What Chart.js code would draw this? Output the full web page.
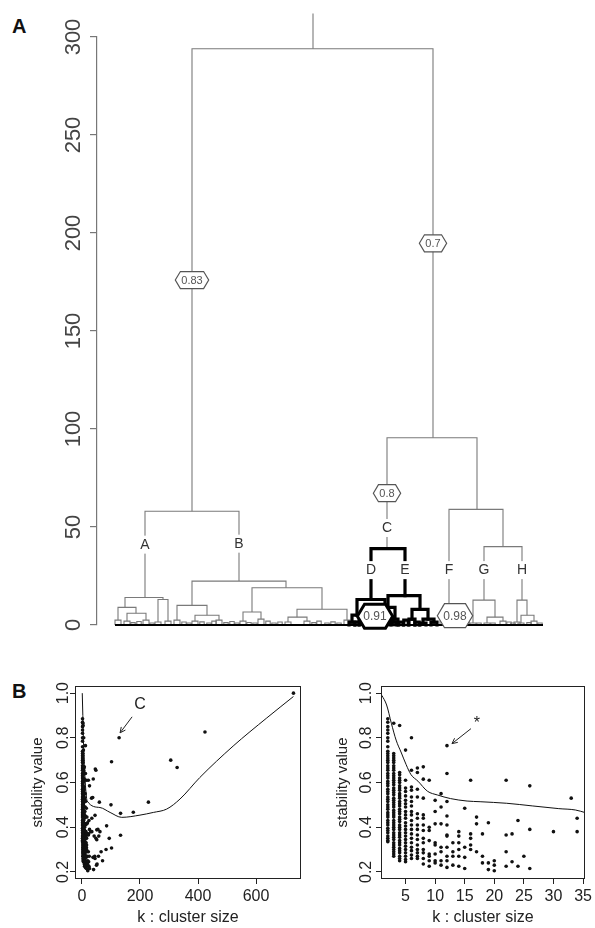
<!DOCTYPE html>
<html>
<head>
<meta charset="utf-8">
<script src="https://cdn.jsdelivr.net/npm/chart.js"></script>
<style>
  html, body { margin: 0; padding: 0; background: #fff; }
  body { position: relative; width: 595px; height: 928px; overflow: hidden; font-family: "Liberation Sans", Arial, sans-serif; }
  .panel { position: absolute; }
  .tag { position: absolute; font: bold 20px "Liberation Sans", Arial, sans-serif; color: #111; }
</style>
</head>
<body>
<div class="tag" style="left:12px;top:15px">A</div>
<div class="tag" style="left:12px;top:680px">B</div>
<div class="panel" style="left:0;top:0;width:595px;height:645px"><canvas id="dendro"></canvas></div>
<div class="panel" style="left:0;top:640px;width:310px;height:288px"><canvas id="sizeAll"></canvas></div>
<div class="panel" style="left:300px;top:640px;width:295px;height:288px"><canvas id="sizeSmall"></canvas></div>
<script>
// ---- panel A: dendrogram (x = leaf order position, height = merge height) ----
const nodeName = ['', '', '', '', 'A', 'B', '', '', '', '', '', '', '', '', '', '', '', '', '', '',
  '', '', '', '', '', '', '', '', 'C', '', 'D', 'E', '', '', '', '', '', '', '', '',
  '', '', '', '', 'F', '', '', '', 'G', 'H', '', '', '', '', '', '', '', '', '', ''];
const nodeX = [216, 216, 95, 336, 48, 142, 28, 66, 21, 39, 30, 49, 61, 71, 95, 189, 80, 110, 98, 122,
  155, 225, 146, 164, 200, 250, 191, 210, 290, 380, 274, 308, 260, 288, 255, 265, 278, 298, 291, 323,
  286, 296, 315, 331, 352, 406, 346, 358, 387, 425, 376, 398, 390, 406, 420, 430, 424, 437, 326, 337];
const nodeHeight = [312, 294, 58, 95.5, 14, 22.4, 9, 13, 2.5, 6, 2, 2.5, 1.5, 2, 10, 19, 2.5, 5, 2, 2.5,
  6.6, 8, 2, 3, 4, 2.5, 1.5, 2, 39, 59, 13, 15, 5, 9, 1.5, 2, 0, 3, 4, 8,
  1, 1.5, 3, 3, 9.5, 40, 2, 0, 12.7, 12.7, 1, 4, 1, 2, 1.5, 5, 1, 2, 1, 1.5];
const nodeParent = [-1, 0, 1, 1, 2, 2, 4, 4, 6, 6, 9, 9, 7, 7, 5, 5, 14, 14, 17, 17,
  15, 15, 20, 20, 21, 21, 24, 24, 3, 3, 28, 28, 30, 30, 32, 32, 33, 33, 31, 31,
  38, 38, 39, 39, 29, 29, 44, 44, 45, 45, 48, 48, 51, 51, 49, 49, 55, 55, 43, 43];
// small leaf groups along the base
const fringeX = [36, 42, 55, 87, 92, 105, 112, 117, 129, 135, 140, 152, 158, 171, 177, 183, 217, 222, 230, 236,
  242, 260, 270, 279, 304, 309, 320, 366, 370, 382, 396, 412, 416, 432, 443];
const fringeH = [1.2, 1.8, 1, 1.5, 1, 1.6, 1, 2, 1.2, 1.8, 1, 1.3, 1, 2, 1, 1.5, 1.2, 2, 1, 1.6,
  1, 1.5, 1, 2, 1.5, 2.5, 1.5, 1, 1.5, 1, 1, 1.5, 1, 1.2, 1];
// bootstrap values on edges
const edgeValueNode = [2, 3, 28, 36, 47];
const edgeValueText = ['0.83', '0.7', '0.8', '0.91', '0.98'];
const highlightClade = 'C';
const heightTicks = [0, 50, 100, 150, 200, 250, 300];

// ---- panel B: stability vs cluster size ----
const clusterSizes = [2, 3, 4, 5, 6, 7, 8, 9, 10, 11, 12, 13, 14, 15, 16, 17, 18, 19, 20, 22, 23, 24, 25, 26, 30, 33, 34];
const stabilityBySize = [
  [0.885, 0.87, 0.85, 0.835, 0.82, 0.80, 0.785, 0.76, 0.74, 0.73, 0.72, 0.71, 0.70, 0.69, 0.675, 0.665, 0.655, 0.64, 0.63, 0.62,
   0.605, 0.595, 0.585, 0.57, 0.56, 0.55, 0.535, 0.525, 0.515, 0.50, 0.49, 0.48, 0.465, 0.455, 0.445, 0.43, 0.42, 0.41, 0.395, 0.385,
   0.375, 0.36, 0.35, 0.34, 0.335],
  [0.865, 0.73, 0.72, 0.71, 0.70, 0.69, 0.675, 0.665, 0.655, 0.64, 0.63, 0.62, 0.61, 0.60, 0.59, 0.575, 0.565, 0.555, 0.545, 0.53,
   0.52, 0.51, 0.50, 0.49, 0.475, 0.465, 0.455, 0.445, 0.43, 0.42, 0.41, 0.40, 0.39, 0.375, 0.365, 0.355, 0.345, 0.33, 0.32, 0.31,
   0.30, 0.29, 0.28, 0.27],
  [0.855, 0.645, 0.635, 0.62, 0.61, 0.60, 0.585, 0.575, 0.565, 0.55, 0.54, 0.53, 0.515, 0.505, 0.495, 0.48, 0.47, 0.46, 0.445, 0.435,
   0.425, 0.41, 0.40, 0.39, 0.375, 0.365, 0.355, 0.34, 0.33, 0.32, 0.305, 0.295, 0.285, 0.27, 0.26, 0.25],
  [0.745, 0.61, 0.575, 0.56, 0.54, 0.52, 0.505, 0.49, 0.47, 0.455, 0.44, 0.42, 0.405, 0.39, 0.375, 0.36, 0.345, 0.33, 0.315, 0.30,
   0.285, 0.27, 0.255, 0.245],
  [0.80, 0.655, 0.58, 0.565, 0.535, 0.515, 0.495, 0.47, 0.455, 0.43, 0.41, 0.39, 0.37, 0.35, 0.33, 0.31, 0.295, 0.275, 0.26],
  [0.665, 0.645, 0.57, 0.535, 0.46, 0.44, 0.41, 0.39, 0.365, 0.345, 0.32, 0.30, 0.285, 0.27, 0.26],
  [0.67, 0.615, 0.53, 0.455, 0.44, 0.41, 0.385, 0.35, 0.33, 0.30, 0.285, 0.26, 0.235],
  [0.61, 0.40, 0.385, 0.34, 0.28, 0.27, 0.25, 0.225],
  [0.52, 0.47, 0.415, 0.33, 0.32, 0.28, 0.25, 0.24],
  [0.55, 0.49, 0.415, 0.31, 0.29, 0.25, 0.23],
  [0.765, 0.64, 0.515, 0.45, 0.41, 0.365, 0.36, 0.31, 0.27, 0.25, 0.22],
  [0.33, 0.29, 0.27, 0.23],
  [0.38, 0.36, 0.33, 0.30, 0.27, 0.225],
  [0.485, 0.31, 0.265, 0.215],
  [0.61, 0.37, 0.35, 0.32, 0.30],
  [0.445, 0.415, 0.29],
  [0.37, 0.27, 0.24],
  [0.42, 0.24, 0.21],
  [0.25, 0.23, 0.205],
  [0.61, 0.365, 0.29, 0.225],
  [0.37, 0.245],
  [0.43, 0.225],
  [0.27],
  [0.585, 0.39, 0.215],
  [0.38],
  [0.53],
  [0.44, 0.38]
];
// clusters larger than 35 (left plot only)
const bigSizes = [37, 38, 39, 40, 42, 44, 45, 45, 46, 48, 48, 50, 51, 51, 52, 55, 57, 58, 60, 62,
  66, 71, 83, 85, 94, 100, 102, 102, 128, 133, 133, 177, 229, 306, 328, 424, 729];
const bigStability = [0.533, 0.265, 0.616, 0.21, 0.36, 0.27, 0.453, 0.26, 0.66, 0.655, 0.35, 0.23, 0.388, 0.344, 0.235, 0.39, 0.27, 0.36, 0.512, 0.38,
  0.29, 0.25, 0.30, 0.406, 0.35, 0.50, 0.693, 0.307, 0.80, 0.462, 0.364, 0.467, 0.512, 0.70, 0.667, 0.826, 1.0];
// smoothed trend
const trendSmallK = [1, 1.8, 2.6, 3.4, 4.3, 5.1, 5.9, 7.1, 8.7, 10.4, 12.6, 15.4, 17.6, 22.1, 26.5, 30.9, 33.7, 35.4];
const trendSmallS = [0.99, 0.947, 0.865, 0.79, 0.732, 0.68, 0.636, 0.606, 0.561, 0.544, 0.528, 0.517, 0.514, 0.507, 0.495, 0.483, 0.477, 0.465];
const trendAllK = [1, 3, 6, 10, 18, 62, 97, 137, 200, 246, 292, 338, 406, 521, 637, 729];
const trendAllS = [1.0, 0.9, 0.75, 0.63, 0.517, 0.488, 0.466, 0.444, 0.454, 0.466, 0.481, 0.526, 0.622, 0.763, 0.889, 0.985];
const stabilityTicks = [0.2, 0.4, 0.6, 0.8, 1.0];
const allSizeTicks = [0, 200, 400, 600];
const smallSizeTicks = [5, 10, 15, 20, 25, 30, 35];

const FONT = '"Liberation Sans", Arial, Helvetica, sans-serif';
Chart.defaults.font.family = FONT;
Chart.defaults.animation = false;
Chart.defaults.plugins.legend.display = false;
Chart.defaults.plugins.tooltip.enabled = false;

function rotatedYLabels(centerX, size, color, fmt) {
  return {
    id: 'rotatedYLabels',
    afterDraw(chart) {
      const ctx = chart.ctx, y = chart.scales.y;
      ctx.save();
      ctx.font = size + 'px ' + FONT;
      ctx.fillStyle = color;
      ctx.textAlign = 'center';
      ctx.textBaseline = 'middle';
      y.ticks.forEach(t => {
        ctx.save();
        ctx.translate(centerX, y.getPixelForValue(t.value));
        ctx.rotate(-Math.PI / 2);
        ctx.fillText(fmt(t.value), 0, 0);
        ctx.restore();
      });
      ctx.restore();
    }
  };
}

// ---------- dendrogram ----------
const LEAF_GAP = 3;
const children = nodeX.map(() => []);
nodeParent.forEach((p, i) => { if (p >= 0) children[p].push(i); });
const cladeRoot = nodeName.indexOf(highlightClade);
const inClade = nodeX.map((_, i) => {
  for (let j = i; j >= 0; j = nodeParent[j]) if (j === cladeRoot) return true;
  return false;
});
const cladeXs = nodeX.filter((_, i) => inClade[i]);
const cladeMin = Math.min(...cladeXs) - LEAF_GAP, cladeMax = Math.max(...cladeXs) + LEAF_GAP;

const paths = [];
nodeX.forEach((x, i) => {
  const kids = children[i].slice().sort((a, b) => nodeX[a] - nodeX[b]);
  const h = nodeHeight[i];
  let pts = null;
  if (kids.length === 1) {
    const c = kids[0];
    pts = [[nodeX[c], nodeHeight[c]], [nodeX[c], h]];
  } else if (kids.length > 1) {
    const a = kids[0], b = kids[kids.length - 1];
    pts = [[nodeX[a], nodeHeight[a]], [nodeX[a], h], [nodeX[b], h], [nodeX[b], nodeHeight[b]]];
  } else if (h > 0) {
    pts = [[x - LEAF_GAP, 0], [x - LEAF_GAP, h], [x + LEAF_GAP, h], [x + LEAF_GAP, 0]];
  }
  if (pts) paths.push({ pts, kind: inClade[i] ? 'bold' : 'thin' });
});
fringeX.forEach((x, i) => {
  const g = 2.2, h = fringeH[i];
  paths.push({ pts: [[x - g, 0], [x - g, h], [x + g, h], [x + g, 0]],
    kind: (x >= cladeMin && x <= cladeMax) ? 'bold' : 'thin' });
});
const leafXs = nodeX.concat(fringeX);
paths.push({ pts: [[Math.min(...leafXs) - LEAF_GAP, 0], [Math.max(...leafXs) + LEAF_GAP, 0]], kind: 'base' });
const kindOrder = { bold: 0, base: 1, thin: 2 };
paths.sort((a, b) => kindOrder[a.kind] - kindOrder[b.kind]);

const dendroDatasets = paths.map(p => ({
  data: p.pts.map(([x, y]) => ({ x, y })),
  showLine: true,
  pointRadius: 0,
  clip: false,
  borderColor: p.kind === 'thin' ? '#7a7a7a' : '#000',
  borderWidth: p.kind === 'bold' ? 3.2 : (p.kind === 'base' ? 2.2 : 1.1),
  borderJoinStyle: 'miter',
  borderCapStyle: p.kind === 'bold' ? 'square' : 'butt'
}));

const cladeLabelAt = { A: 41, B: 41.5, C: 49.5, D: 28, E: 28, F: 28, G: 28, H: 28 };

const dendroNotes = {
  id: 'dendroNotes',
  afterDatasetsDraw(chart) {
    const ctx = chart.ctx, xs = chart.scales.x, ys = chart.scales.y;
    ctx.save();
    // clade letters
    ctx.font = '14px ' + FONT;
    ctx.textAlign = 'center';
    ctx.textBaseline = 'middle';
    Object.keys(cladeLabelAt).forEach(name => {
      const i = nodeName.indexOf(name);
      const px = xs.getPixelForValue(nodeX[i]), py = ys.getPixelForValue(cladeLabelAt[name]);
      const w = ctx.measureText(name).width + 4;
      ctx.fillStyle = '#fff';
      ctx.fillRect(px - w / 2, py - 9, w, 18);
      ctx.fillStyle = '#333';
      ctx.fillText(name, px, py + 0.5);
    });
    // edge values in hexagons
    edgeValueNode.forEach((i, k) => {
      const h0 = nodeHeight[i], h1 = nodeHeight[nodeParent[i]];
      const low = (h1 - h0) < 15;
      const boldEdge = inClade[nodeParent[i]];
      const px = xs.getPixelForValue(nodeX[i]), py = ys.getPixelForValue((h0 + h1) / 2);
      ctx.font = (low ? 12 : 11) + 'px ' + FONT;
      const tw = ctx.measureText(edgeValueText[k]).width;
      const w = tw + 12, hh = low ? 24 : 17, s = hh * 0.3;
      ctx.beginPath();
      ctx.moveTo(px - w / 2, py);
      ctx.lineTo(px - w / 2 + s, py - hh / 2);
      ctx.lineTo(px + w / 2 - s, py - hh / 2);
      ctx.lineTo(px + w / 2, py);
      ctx.lineTo(px + w / 2 - s, py + hh / 2);
      ctx.lineTo(px - w / 2 + s, py + hh / 2);
      ctx.closePath();
      ctx.fillStyle = '#fff';
      ctx.fill();
      ctx.lineWidth = boldEdge ? 3 : 1.2;
      ctx.strokeStyle = boldEdge ? '#000' : '#555';
      ctx.stroke();
      ctx.fillStyle = '#555';
      ctx.fillText(edgeValueText[k], px, py + 0.5);
    });
    ctx.restore();
  }
};

new Chart(document.getElementById('dendro'), {
  type: 'scatter',
  data: { datasets: dendroDatasets },
  options: {
    responsive: true,
    maintainAspectRatio: false,
    layout: { padding: { left: 90, right: 35, top: 37, bottom: 20 } },
    scales: {
      x: { type: 'linear', display: false, min: 0, max: 463 },
      y: {
        type: 'linear', min: 0, max: 300,
        afterBuildTicks: s => { s.ticks = heightTicks.map(v => ({ value: v })); },
        afterFit: s => { s.width = 7; },
        ticks: { display: false },
        grid: { drawOnChartArea: false, drawTicks: true, tickLength: 7, color: '#777', lineWidth: 1.2 },
        border: { display: true, color: '#777', width: 1.2 }
      }
    }
  },
  plugins: [dendroNotes, rotatedYLabels(74, 22, '#444', v => String(v))]
});

// ---------- stability scatter plots ----------
const smallPoints = [];
clusterSizes.forEach((k, i) => stabilityBySize[i].forEach(s => smallPoints.push({ x: k, y: s })));
const bigPoints = bigSizes.map((k, i) => ({ x: k, y: bigStability[i] }));

const boxPlugin = {
  id: 'box',
  afterDraw(chart) {
    const a = chart.chartArea, ctx = chart.ctx;
    ctx.save();
    ctx.strokeStyle = '#222';
    ctx.lineWidth = 1;
    ctx.strokeRect(Math.round(a.left) + 0.5, Math.round(a.top) + 0.5,
      Math.round(a.right - a.left) - 1, Math.round(a.bottom - a.top) - 1);
    ctx.restore();
  }
};

function arrowNote(k, s, text, dx, dy, tailDx, tailDy, textDx, textDy) {
  return {
    id: 'arrowNote',
    afterDraw(chart) {
      const ctx = chart.ctx;
      const tipX = chart.scales.x.getPixelForValue(k) + dx;
      const tipY = chart.scales.y.getPixelForValue(s) + dy;
      const tailX = tipX + tailDx, tailY = tipY + tailDy;
      ctx.save();
      ctx.strokeStyle = '#222';
      ctx.lineWidth = 1;
      ctx.beginPath();
      ctx.moveTo(tailX, tailY);
      ctx.lineTo(tipX, tipY);
      const ang = Math.atan2(tipY - tailY, tipX - tailX);
      [0.45, -0.45].forEach(d => {
        ctx.moveTo(tipX, tipY);
        ctx.lineTo(tipX - 6 * Math.cos(ang + d), tipY - 6 * Math.sin(ang + d));
      });
      ctx.stroke();
      ctx.fillStyle = '#222';
      ctx.font = '16px ' + FONT;
      ctx.textAlign = 'center';
      ctx.textBaseline = 'middle';
      ctx.fillText(text, tailX + textDx, tailY + textDy);
      ctx.restore();
    }
  };
}

function stabilityChart(id, points, trendK, trendS, xMin, xMax, xTicks, yWidth, titlePad, labelX, note) {
  new Chart(document.getElementById(id), {
    type: 'scatter',
    data: {
      datasets: [
        {
          data: trendK.map((k, i) => ({ x: k, y: trendS[i] })),
          showLine: true, pointRadius: 0, borderColor: '#111', borderWidth: 1,
          cubicInterpolationMode: 'monotone'
        },
        {
          data: points, pointRadius: 1.8, pointBorderWidth: 0,
          backgroundColor: '#111', pointBackgroundColor: '#111'
        }
      ]
    },
    options: {
      responsive: true,
      maintainAspectRatio: false,
      layout: { padding: { left: 0, right: id === 'sizeAll' ? 9 : 7, top: 46, bottom: 0 } },
      scales: {
        x: {
          type: 'linear', min: xMin, max: xMax,
          afterBuildTicks: s => { s.ticks = xTicks.map(v => ({ value: v })); },
          afterFit: s => { s.height = 49; },
          grid: { drawOnChartArea: false, drawTicks: true, tickLength: 5, color: '#222' },
          border: { display: false },
          ticks: { color: '#222', font: { size: 16 }, padding: 3, maxRotation: 0, autoSkip: false, callback: v => String(v) },
          title: { display: true, text: 'k : cluster size', color: '#222', font: { size: 16 }, padding: { top: 0, bottom: 1 } }
        },
        y: {
          type: 'linear', min: 0.168, max: 1.032,
          afterBuildTicks: s => { s.ticks = stabilityTicks.map(v => ({ value: v })); },
          afterFit: s => { s.width = yWidth; },
          grid: { drawOnChartArea: false, drawTicks: true, tickLength: 5, color: '#222' },
          border: { display: false },
          ticks: { display: false },
          title: { display: true, text: 'stability value', color: '#222', font: { size: 15 }, padding: { top: titlePad, bottom: 0 } }
        }
      }
    },
    plugins: [boxPlugin, rotatedYLabels(labelX, 16, '#222', v => v.toFixed(1)), note]
  });
}

stabilityChart('sizeAll', smallPoints.concat(bigPoints), trendAllK, trendAllS, -24, 755, allSizeTicks, 75, 29, 64,
  arrowNote(128, 0.80, 'C', 1, -5, 12, -16, 8, -12));
stabilityChart('sizeSmall', smallPoints, trendSmallK, trendSmallS, 0.85, 35.3, smallSizeTicks, 81, 34, 67,
  arrowNote(12, 0.765, '*', 5, -2, 19, -15, 6, -5));
</script>
</body>
</html>
